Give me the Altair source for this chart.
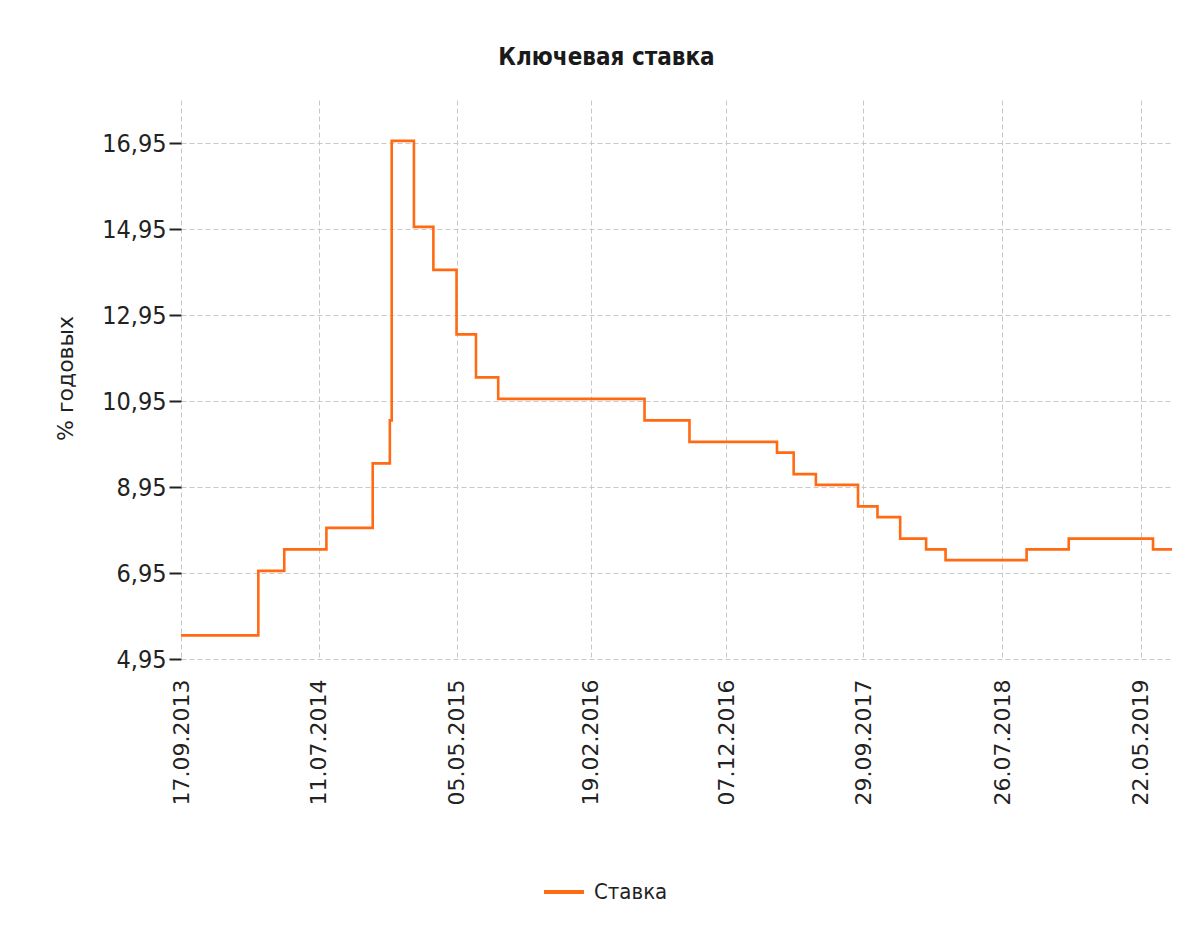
import altair as alt
import pandas as pd

# Key rate change dates and values (% per annum)
dates = ["2013-09-17", "2014-03-03", "2014-04-28", "2014-07-28", "2014-11-05",
         "2014-12-12", "2014-12-16", "2015-02-02", "2015-03-16", "2015-05-05",
         "2015-06-16", "2015-08-03", "2016-06-14", "2016-09-19", "2017-03-27",
         "2017-05-02", "2017-06-19", "2017-09-18", "2017-10-30", "2017-12-18",
         "2018-02-12", "2018-03-26", "2018-09-17", "2018-12-17", "2019-06-17",
         "2019-07-28"]
rates = [5.5, 7.0, 7.5, 8.0, 9.5,
         10.5, 17.0, 15.0, 14.0, 12.5,
         11.5, 11.0, 10.5, 10.0, 9.75,
         9.25, 9.0, 8.5, 8.25, 7.75,
         7.5, 7.25, 7.5, 7.75, 7.5,
         7.5]
series_name = "Ставка"

x_ticks = [(2013, 9, 17), (2014, 7, 11), (2015, 5, 5), (2016, 2, 19),
           (2016, 12, 7), (2017, 9, 29), (2018, 7, 26), (2019, 5, 22)]
y_ticks = [4.95, 6.95, 8.95, 10.95, 12.95, 14.95, 16.95]
y_domain = [4.95, 17.95]
x_domain = [(2013, 9, 17), (2019, 7, 28)]

df = pd.DataFrame({"date": dates, "rate": rates, "series": series_name})

def dt(t):
    return alt.DateTime(year=t[0], month=t[1], date=t[2], utc=True)

NARROW = "Liberation Sans Narrow, DejaVu Sans Condensed, Liberation Sans"
WIDE = "DejaVu Sans"
LINE = "#ff6a13"

chart = alt.Chart(df).mark_line(
    interpolate="step-after", strokeWidth=2.6
).encode(
    x=alt.X("date:T",
            scale=alt.Scale(type="utc", domain=[dt(x_domain[0]), dt(x_domain[1])]),
            axis=alt.Axis(values=[dt(t) for t in x_ticks],
                          labelExpr="utcFormat(datum.value, '%d.%m.%Y')",
                          labelAngle=270, labelFont=WIDE, labelFontSize=22,
                          labelColor="#222222", labelPadding=20,
                          ticks=False, domain=False, title=None,
                          grid=True, gridColor="#c8c8c8", gridDash=[5, 3],
                          labelOverlap=False)),
    y=alt.Y("rate:Q",
            scale=alt.Scale(domain=y_domain, nice=False, zero=False),
            axis=alt.Axis(values=y_ticks,
                          labelExpr="replace(format(datum.value, '.2f'), '.', ',')",
                          labelFont=NARROW, labelFontSize=25, labelColor="#222222",
                          labelPadding=3, tickSize=12, tickWidth=2,
                          tickColor="#222222", domain=False,
                          grid=True, gridColor="#c8c8c8", gridDash=[5, 3],
                          title="% годовых", titleFont=WIDE, titleFontSize=22,
                          titleFontWeight="normal", titleColor="#222222",
                          titleAngle=270, titleAlign="center",
                          titleBaseline="middle", titleX=-116, titleY=278,
                          labelOverlap=False)),
    color=alt.Color("series:N",
                    scale=alt.Scale(range=[LINE]),
                    legend=alt.Legend(title=None, orient="none",
                                      legendX=361, legendY=770,
                                      symbolType="stroke", symbolSize=1600,
                                      symbolStrokeWidth=4,
                                      labelFont=NARROW, labelFontSize=22,
                                      labelColor="#222222", labelOffset=8)),
).properties(
    width=991, height=559,
    autosize="none",
    padding={"left": 173, "top": 92, "right": 5, "bottom": 250},
    title=alt.TitleParams("Ключевая ставка", font=NARROW, fontSize=24,
                          fontWeight="bold", color="#1a1a1a",
                          anchor="middle", offset=30, dx=-70),
    background="white",
).configure_view(stroke=None)

chart.save("out.html", embed_options={"renderer": "svg", "actions": False})
